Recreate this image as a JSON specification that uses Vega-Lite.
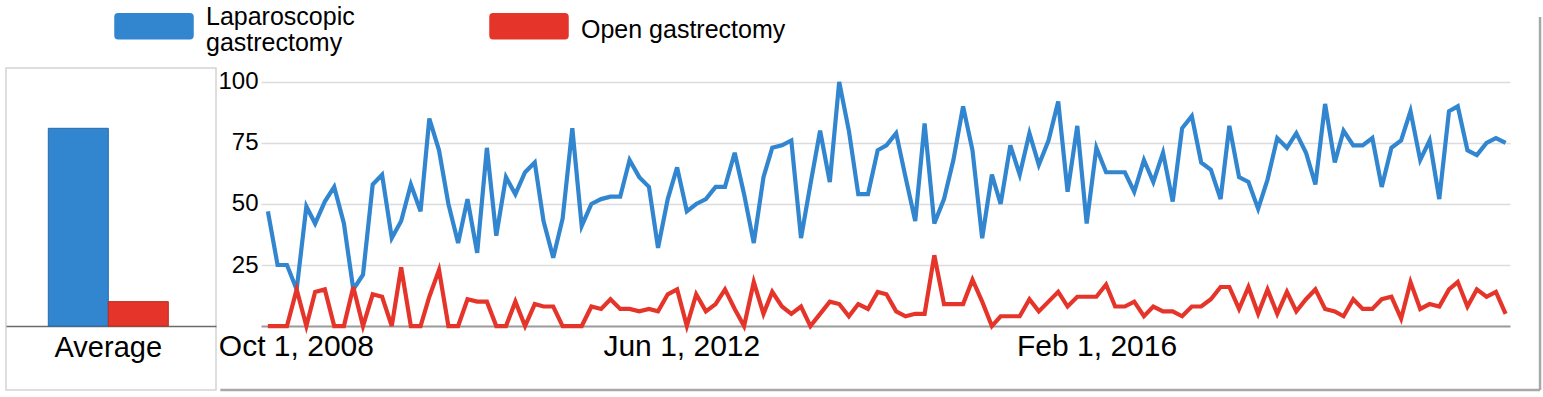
{
  "$schema": "https://vega.github.io/schema/vega-lite/v6.json",
  "padding": {"left": 5, "top": -14, "right": 4, "bottom": 5},
  "spacing": 0,
  "config": {"font": "Liberation Sans", "view": {"stroke": null}},
  "hconcat": [
    {
      "width": 210,
      "height": 322,
      "view": {"stroke": "#d4d4d4", "strokeWidth": 1.5},
      "data": {"values": [
        {"cat": "Average", "series": "Laparoscopic gastrectomy", "avg": 81},
        {"cat": "Average", "series": "Open gastrectomy", "avg": 10}
      ]},
      "mark": {"type": "bar", "strokeWidth": 1},
      "encoding": {
        "x": {"field": "cat", "type": "nominal",
          "scale": {"paddingOuter": 0.375, "paddingInner": 0, "align": 0.47},
          "axis": {"title": null, "orient": "bottom", "offset": -64, "ticks": false, "domainColor": "#6b6b6b", "domainWidth": 1.5, "labelFontSize": 29, "labelPadding": 7, "labelAngle": 0, "labelColor": "#000"}},
        "xOffset": {"field": "series", "type": "nominal", "scale": {"paddingInner": 0, "paddingOuter": 0}},
        "y": {"field": "avg", "type": "quantitative", "stack": null, "scale": {"domain": [-26.2, 105.7], "nice": false, "zero": false}, "axis": null},
        "color": {"field": "series", "type": "nominal",
          "scale": {"domain": ["Laparoscopic gastrectomy", "Open gastrectomy"], "range": ["#3186cf", "#e5352a"]},
          "legend": {
            "title": null, "orient": "none", "legendX": 108, "legendY": -82, "direction": "horizontal",
            "symbolType": "M-0.92,-0.32 L0.92,-0.32 Q1,-0.32 1,-0.24 L1,0.24 Q1,0.32 0.92,0.32 L-0.92,0.32 Q-1,0.32 -1,0.24 L-1,-0.24 Q-1,-0.32 -0.92,-0.32 Z",
            "symbolSize": 6084, "symbolStrokeWidth": 1.5, "symbolOpacity": 1,
            "labelFontSize": 25, "labelOffset": 12, "labelLimit": 400, "columnPadding": 132, "labelColor": "#000", "labelBaseline": "top",
            "labelExpr": "datum.label == 'Laparoscopic gastrectomy' ? ['Laparoscopic', 'gastrectomy'] : ['', datum.label, '']",
            "encode": {
              "symbols": {"update": {"stroke": {"signal": "datum.value == 'Open gastrectomy' ? '#3b1d1b' : '#1d5a99'"}}},
              "labels": {"update": {"dy": {"value": -21.5}, "lineHeight": {"signal": "datum.value == 'Open gastrectomy' ? 13 : 26"}}}
            }
          }},
        "stroke": {"field": "series", "type": "nominal", "scale": {"domain": ["Laparoscopic gastrectomy", "Open gastrectomy"], "range": ["#2769ad", "#c0281c"]}, "legend": null}
      }
    },
    {
      "width": 1249,
      "height": 322,
      "layer": [
        {
          "data": {"values": [
            {"d": "2008-10-01", "Laparoscopic gastrectomy": 47, "Open gastrectomy": 0},
            {"d": "2008-11-01", "Laparoscopic gastrectomy": 25, "Open gastrectomy": 0},
            {"d": "2008-12-01", "Laparoscopic gastrectomy": 25, "Open gastrectomy": 0},
            {"d": "2009-01-01", "Laparoscopic gastrectomy": 15, "Open gastrectomy": 15},
            {"d": "2009-02-01", "Laparoscopic gastrectomy": 49, "Open gastrectomy": 0},
            {"d": "2009-03-01", "Laparoscopic gastrectomy": 42, "Open gastrectomy": 14},
            {"d": "2009-04-01", "Laparoscopic gastrectomy": 51, "Open gastrectomy": 15},
            {"d": "2009-05-01", "Laparoscopic gastrectomy": 57, "Open gastrectomy": 0},
            {"d": "2009-06-01", "Laparoscopic gastrectomy": 42, "Open gastrectomy": 0},
            {"d": "2009-07-01", "Laparoscopic gastrectomy": 15, "Open gastrectomy": 16},
            {"d": "2009-08-01", "Laparoscopic gastrectomy": 21, "Open gastrectomy": 0},
            {"d": "2009-09-01", "Laparoscopic gastrectomy": 58, "Open gastrectomy": 13},
            {"d": "2009-10-01", "Laparoscopic gastrectomy": 62, "Open gastrectomy": 12},
            {"d": "2009-11-01", "Laparoscopic gastrectomy": 36, "Open gastrectomy": 0},
            {"d": "2009-12-01", "Laparoscopic gastrectomy": 43, "Open gastrectomy": 24},
            {"d": "2010-01-01", "Laparoscopic gastrectomy": 58, "Open gastrectomy": 0},
            {"d": "2010-02-01", "Laparoscopic gastrectomy": 47, "Open gastrectomy": 0},
            {"d": "2010-03-01", "Laparoscopic gastrectomy": 85, "Open gastrectomy": 12},
            {"d": "2010-04-01", "Laparoscopic gastrectomy": 72, "Open gastrectomy": 23},
            {"d": "2010-05-01", "Laparoscopic gastrectomy": 50, "Open gastrectomy": 0},
            {"d": "2010-06-01", "Laparoscopic gastrectomy": 34, "Open gastrectomy": 0},
            {"d": "2010-07-01", "Laparoscopic gastrectomy": 52, "Open gastrectomy": 11},
            {"d": "2010-08-01", "Laparoscopic gastrectomy": 30, "Open gastrectomy": 10},
            {"d": "2010-09-01", "Laparoscopic gastrectomy": 73, "Open gastrectomy": 10},
            {"d": "2010-10-01", "Laparoscopic gastrectomy": 37, "Open gastrectomy": 0},
            {"d": "2010-11-01", "Laparoscopic gastrectomy": 61, "Open gastrectomy": 0},
            {"d": "2010-12-01", "Laparoscopic gastrectomy": 54, "Open gastrectomy": 10},
            {"d": "2011-01-01", "Laparoscopic gastrectomy": 63, "Open gastrectomy": 0},
            {"d": "2011-02-01", "Laparoscopic gastrectomy": 67, "Open gastrectomy": 9},
            {"d": "2011-03-01", "Laparoscopic gastrectomy": 43, "Open gastrectomy": 8},
            {"d": "2011-04-01", "Laparoscopic gastrectomy": 28, "Open gastrectomy": 8},
            {"d": "2011-05-01", "Laparoscopic gastrectomy": 44, "Open gastrectomy": 0},
            {"d": "2011-06-01", "Laparoscopic gastrectomy": 81, "Open gastrectomy": 0},
            {"d": "2011-07-01", "Laparoscopic gastrectomy": 41, "Open gastrectomy": 0},
            {"d": "2011-08-01", "Laparoscopic gastrectomy": 50, "Open gastrectomy": 8},
            {"d": "2011-09-01", "Laparoscopic gastrectomy": 52, "Open gastrectomy": 7},
            {"d": "2011-10-01", "Laparoscopic gastrectomy": 53, "Open gastrectomy": 11},
            {"d": "2011-11-01", "Laparoscopic gastrectomy": 53, "Open gastrectomy": 7},
            {"d": "2011-12-01", "Laparoscopic gastrectomy": 68, "Open gastrectomy": 7},
            {"d": "2012-01-01", "Laparoscopic gastrectomy": 61, "Open gastrectomy": 6},
            {"d": "2012-02-01", "Laparoscopic gastrectomy": 57, "Open gastrectomy": 7},
            {"d": "2012-03-01", "Laparoscopic gastrectomy": 32, "Open gastrectomy": 6},
            {"d": "2012-04-01", "Laparoscopic gastrectomy": 52, "Open gastrectomy": 13},
            {"d": "2012-05-01", "Laparoscopic gastrectomy": 65, "Open gastrectomy": 15},
            {"d": "2012-06-01", "Laparoscopic gastrectomy": 47, "Open gastrectomy": 0},
            {"d": "2012-07-01", "Laparoscopic gastrectomy": 50, "Open gastrectomy": 13},
            {"d": "2012-08-01", "Laparoscopic gastrectomy": 52, "Open gastrectomy": 6},
            {"d": "2012-09-01", "Laparoscopic gastrectomy": 57, "Open gastrectomy": 9},
            {"d": "2012-10-01", "Laparoscopic gastrectomy": 57, "Open gastrectomy": 15},
            {"d": "2012-11-01", "Laparoscopic gastrectomy": 71, "Open gastrectomy": 7},
            {"d": "2012-12-01", "Laparoscopic gastrectomy": 54, "Open gastrectomy": 0},
            {"d": "2013-01-01", "Laparoscopic gastrectomy": 34, "Open gastrectomy": 18},
            {"d": "2013-02-01", "Laparoscopic gastrectomy": 61, "Open gastrectomy": 5},
            {"d": "2013-03-01", "Laparoscopic gastrectomy": 73, "Open gastrectomy": 14},
            {"d": "2013-04-01", "Laparoscopic gastrectomy": 74, "Open gastrectomy": 8},
            {"d": "2013-05-01", "Laparoscopic gastrectomy": 76, "Open gastrectomy": 5},
            {"d": "2013-06-01", "Laparoscopic gastrectomy": 36, "Open gastrectomy": 8},
            {"d": "2013-07-01", "Laparoscopic gastrectomy": 58, "Open gastrectomy": 0},
            {"d": "2013-08-01", "Laparoscopic gastrectomy": 80, "Open gastrectomy": 5},
            {"d": "2013-09-01", "Laparoscopic gastrectomy": 59, "Open gastrectomy": 10},
            {"d": "2013-10-01", "Laparoscopic gastrectomy": 100, "Open gastrectomy": 9},
            {"d": "2013-11-01", "Laparoscopic gastrectomy": 80, "Open gastrectomy": 4},
            {"d": "2013-12-01", "Laparoscopic gastrectomy": 54, "Open gastrectomy": 9},
            {"d": "2014-01-01", "Laparoscopic gastrectomy": 54, "Open gastrectomy": 7},
            {"d": "2014-02-01", "Laparoscopic gastrectomy": 72, "Open gastrectomy": 14},
            {"d": "2014-03-01", "Laparoscopic gastrectomy": 74, "Open gastrectomy": 13},
            {"d": "2014-04-01", "Laparoscopic gastrectomy": 79, "Open gastrectomy": 6},
            {"d": "2014-05-01", "Laparoscopic gastrectomy": 61, "Open gastrectomy": 4},
            {"d": "2014-06-01", "Laparoscopic gastrectomy": 43, "Open gastrectomy": 5},
            {"d": "2014-07-01", "Laparoscopic gastrectomy": 83, "Open gastrectomy": 5},
            {"d": "2014-08-01", "Laparoscopic gastrectomy": 42, "Open gastrectomy": 29},
            {"d": "2014-09-01", "Laparoscopic gastrectomy": 52, "Open gastrectomy": 9},
            {"d": "2014-10-01", "Laparoscopic gastrectomy": 68, "Open gastrectomy": 9},
            {"d": "2014-11-01", "Laparoscopic gastrectomy": 90, "Open gastrectomy": 9},
            {"d": "2014-12-01", "Laparoscopic gastrectomy": 72, "Open gastrectomy": 19},
            {"d": "2015-01-01", "Laparoscopic gastrectomy": 36, "Open gastrectomy": 10},
            {"d": "2015-02-01", "Laparoscopic gastrectomy": 62, "Open gastrectomy": 0},
            {"d": "2015-03-01", "Laparoscopic gastrectomy": 50, "Open gastrectomy": 4},
            {"d": "2015-04-01", "Laparoscopic gastrectomy": 74, "Open gastrectomy": 4},
            {"d": "2015-05-01", "Laparoscopic gastrectomy": 62, "Open gastrectomy": 4},
            {"d": "2015-06-01", "Laparoscopic gastrectomy": 79, "Open gastrectomy": 11},
            {"d": "2015-07-01", "Laparoscopic gastrectomy": 66, "Open gastrectomy": 6},
            {"d": "2015-08-01", "Laparoscopic gastrectomy": 76, "Open gastrectomy": 10},
            {"d": "2015-09-01", "Laparoscopic gastrectomy": 92, "Open gastrectomy": 14},
            {"d": "2015-10-01", "Laparoscopic gastrectomy": 55, "Open gastrectomy": 8},
            {"d": "2015-11-01", "Laparoscopic gastrectomy": 82, "Open gastrectomy": 12},
            {"d": "2015-12-01", "Laparoscopic gastrectomy": 42, "Open gastrectomy": 12},
            {"d": "2016-01-01", "Laparoscopic gastrectomy": 73, "Open gastrectomy": 12},
            {"d": "2016-02-01", "Laparoscopic gastrectomy": 63, "Open gastrectomy": 17},
            {"d": "2016-03-01", "Laparoscopic gastrectomy": 63, "Open gastrectomy": 8},
            {"d": "2016-04-01", "Laparoscopic gastrectomy": 63, "Open gastrectomy": 8},
            {"d": "2016-05-01", "Laparoscopic gastrectomy": 55, "Open gastrectomy": 10},
            {"d": "2016-06-01", "Laparoscopic gastrectomy": 68, "Open gastrectomy": 4},
            {"d": "2016-07-01", "Laparoscopic gastrectomy": 59, "Open gastrectomy": 8},
            {"d": "2016-08-01", "Laparoscopic gastrectomy": 71, "Open gastrectomy": 6},
            {"d": "2016-09-01", "Laparoscopic gastrectomy": 51, "Open gastrectomy": 6},
            {"d": "2016-10-01", "Laparoscopic gastrectomy": 81, "Open gastrectomy": 4},
            {"d": "2016-11-01", "Laparoscopic gastrectomy": 86, "Open gastrectomy": 8},
            {"d": "2016-12-01", "Laparoscopic gastrectomy": 67, "Open gastrectomy": 8},
            {"d": "2017-01-01", "Laparoscopic gastrectomy": 64, "Open gastrectomy": 11},
            {"d": "2017-02-01", "Laparoscopic gastrectomy": 52, "Open gastrectomy": 16},
            {"d": "2017-03-01", "Laparoscopic gastrectomy": 82, "Open gastrectomy": 16},
            {"d": "2017-04-01", "Laparoscopic gastrectomy": 61, "Open gastrectomy": 7},
            {"d": "2017-05-01", "Laparoscopic gastrectomy": 59, "Open gastrectomy": 16},
            {"d": "2017-06-01", "Laparoscopic gastrectomy": 48, "Open gastrectomy": 5},
            {"d": "2017-07-01", "Laparoscopic gastrectomy": 60, "Open gastrectomy": 15},
            {"d": "2017-08-01", "Laparoscopic gastrectomy": 77, "Open gastrectomy": 5},
            {"d": "2017-09-01", "Laparoscopic gastrectomy": 73, "Open gastrectomy": 14},
            {"d": "2017-10-01", "Laparoscopic gastrectomy": 79, "Open gastrectomy": 6},
            {"d": "2017-11-01", "Laparoscopic gastrectomy": 71, "Open gastrectomy": 11},
            {"d": "2017-12-01", "Laparoscopic gastrectomy": 58, "Open gastrectomy": 15},
            {"d": "2018-01-01", "Laparoscopic gastrectomy": 91, "Open gastrectomy": 7},
            {"d": "2018-02-01", "Laparoscopic gastrectomy": 67, "Open gastrectomy": 6},
            {"d": "2018-03-01", "Laparoscopic gastrectomy": 80, "Open gastrectomy": 4},
            {"d": "2018-04-01", "Laparoscopic gastrectomy": 74, "Open gastrectomy": 11},
            {"d": "2018-05-01", "Laparoscopic gastrectomy": 74, "Open gastrectomy": 7},
            {"d": "2018-06-01", "Laparoscopic gastrectomy": 77, "Open gastrectomy": 7},
            {"d": "2018-07-01", "Laparoscopic gastrectomy": 57, "Open gastrectomy": 11},
            {"d": "2018-08-01", "Laparoscopic gastrectomy": 73, "Open gastrectomy": 12},
            {"d": "2018-09-01", "Laparoscopic gastrectomy": 76, "Open gastrectomy": 3},
            {"d": "2018-10-01", "Laparoscopic gastrectomy": 88, "Open gastrectomy": 18},
            {"d": "2018-11-01", "Laparoscopic gastrectomy": 68, "Open gastrectomy": 7},
            {"d": "2018-12-01", "Laparoscopic gastrectomy": 76, "Open gastrectomy": 9},
            {"d": "2019-01-01", "Laparoscopic gastrectomy": 52, "Open gastrectomy": 8},
            {"d": "2019-02-01", "Laparoscopic gastrectomy": 88, "Open gastrectomy": 15},
            {"d": "2019-03-01", "Laparoscopic gastrectomy": 90, "Open gastrectomy": 18},
            {"d": "2019-04-01", "Laparoscopic gastrectomy": 72, "Open gastrectomy": 8},
            {"d": "2019-05-01", "Laparoscopic gastrectomy": 70, "Open gastrectomy": 15},
            {"d": "2019-06-01", "Laparoscopic gastrectomy": 75, "Open gastrectomy": 12},
            {"d": "2019-07-01", "Laparoscopic gastrectomy": 77, "Open gastrectomy": 14},
            {"d": "2019-08-01", "Laparoscopic gastrectomy": 75, "Open gastrectomy": 5}
          ]},
          "transform": [{"fold": ["Laparoscopic gastrectomy", "Open gastrectomy"], "as": ["series", "value"]}],
          "mark": {"type": "line", "strokeWidth": 4.2},
          "encoding": {
            "x": {"field": "d", "type": "temporal",
              "scale": {"type": "utc", "domain": [{"year": 2008, "month": 9, "date": 9, "utc": true}, {"year": 2019, "month": 8, "date": 15, "utc": true}]},
              "axis": {"title": null, "values": [{"year": 2008, "month": 10, "date": 1, "utc": true}, {"year": 2012, "month": 6, "date": 1, "utc": true}, {"year": 2016, "month": 2, "date": 1, "utc": true}],
                "format": "%b %-d, %Y", "labelFontSize": 30, "labelColor": "#000", "ticks": false, "grid": false, "domainColor": "#9a9a9a", "domainWidth": 2, "offset": -64, "labelPadding": 5, "labelFlush": false, "labelOverlap": false, "labelBound": false,
                "labelOffset": {"expr": "datum.index == 0 ? 28 : (datum.index == 1 ? -9.5 : -5.5)"}}},
            "y": {"field": "value", "type": "quantitative",
              "scale": {"domain": [-26.2, 105.7], "nice": false, "zero": false},
              "axis": {"title": null, "values": [25, 50, 75, 100], "labelFontSize": 24, "labelColor": "#000", "labelPadding": 3, "ticks": false, "domain": false, "grid": true, "gridColor": "#dcdcdc", "gridWidth": 1.5}},
            "color": {"field": "series", "type": "nominal", "legend": null}
          }
        },
        {
          "data": {"values": [{"frame": "right"}]},
          "mark": {"type": "rule", "color": "#a8a8a8", "strokeWidth": 2.5},
          "encoding": {
            "x": {"datum": {"year": 2019, "month": 11, "date": 19, "utc": true}, "type": "temporal"},
            "y": {"datum": 126.6, "type": "quantitative"},
            "y2": {"datum": -26.2}
          }
        },
        {
          "data": {"values": [{"frame": "bottom"}]},
          "mark": {"type": "rule", "color": "#a8a8a8", "strokeWidth": 2.5},
          "encoding": {
            "x": {"datum": {"year": 2008, "month": 5, "date": 2, "utc": true}, "type": "temporal"},
            "x2": {"datum": {"year": 2019, "month": 11, "date": 19, "utc": true}},
            "y": {"datum": -26.2, "type": "quantitative"}
          }
        }
      ]
    }
  ]
}
